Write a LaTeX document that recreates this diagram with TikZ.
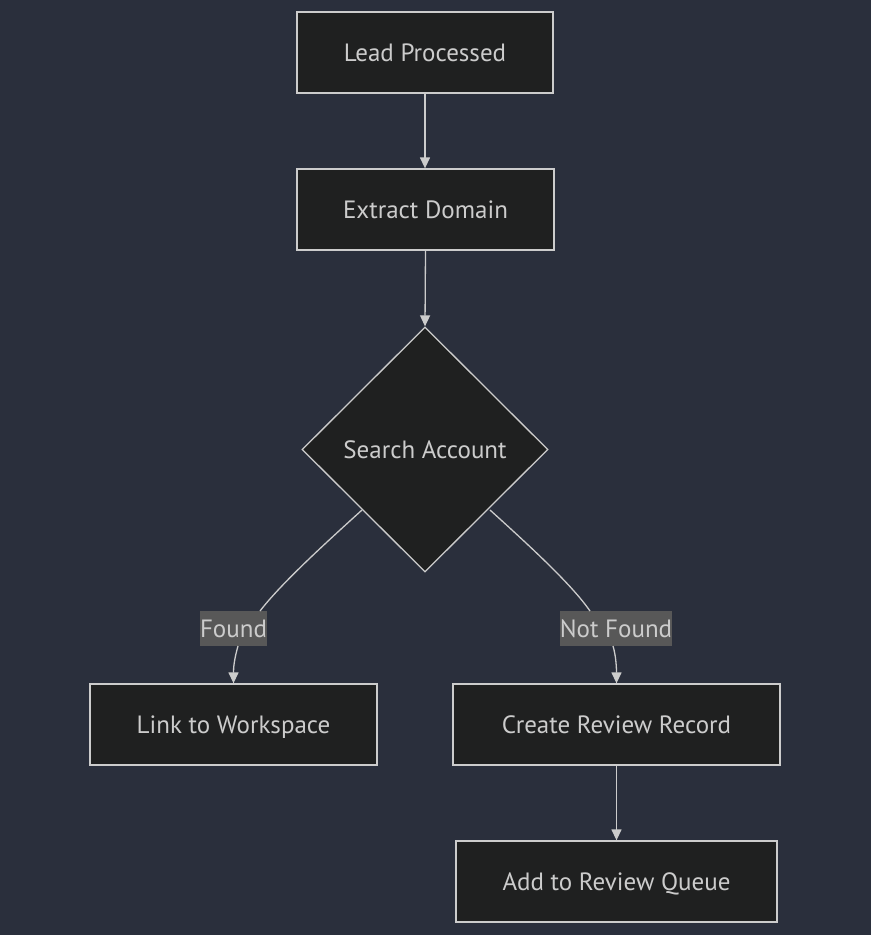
\documentclass[tikz,border=0pt]{standalone}
\usepackage{fontspec}
\setmainfont{PT Sans}
\usetikzlibrary{shapes.geometric,arrows.meta}
\definecolor{bgc}{HTML}{2A2F3C}
\definecolor{nodefill}{HTML}{1F2020}
\definecolor{linec}{HTML}{CCCCCC}
\definecolor{txtc}{HTML}{CCCCCC}
\definecolor{lblbg}{HTML}{585858}
\tikzset{
  txt/.style={text=txtc, font=\fontsize{25}{29}\selectfont, text height=19pt, text depth=2pt},
  box/.style={txt, draw=linec, fill=nodefill, line width=1.3pt, inner sep=0pt},
  dia/.style={txt, draw=linec, fill=nodefill, line width=1.3pt, diamond, inner sep=0pt, minimum width=246pt, minimum height=245pt},
  lbl/.style={txt, fill=lblbg, inner sep=0pt},
  conn/.style={draw=linec, line width=1.3pt, -{Triangle[width=10pt,length=11pt]}},
  plain/.style={draw=linec, line width=1.3pt},
}
\begin{document}
\begin{tikzpicture}[x=1pt,y=-1pt]
\useasboundingbox[fill=bgc] (0,0) rectangle (871,935);
\node[box, minimum width=256pt, minimum height=81pt] (lead) at (425,52.5) {Lead Processed};
\node[box, minimum width=257pt, minimum height=81pt] (extract) at (425.5,209.5) {Extract Domain};
\node[dia] (search) at (425,449.5) {Search Account};
\node[box, minimum width=287pt, minimum height=81pt] (link) at (233.5,724.5) {Link to Workspace};
\node[box, minimum width=327pt, minimum height=81pt] (create) at (616.5,724.5) {Create Review Record};
\node[box, minimum width=321pt, minimum height=81pt] (add) at (616.5,881.5) {Add to Review Queue};
\node[lbl, minimum width=65pt, minimum height=35pt] (found) at (233.5,628.5) {Found};
\node[lbl, minimum width=110pt, minimum height=35pt] (notfound) at (616,628.5) {Not Found};
\coordinate (sl) at (362,510);
\coordinate (sr) at (490,510);
\draw[conn] (lead.south) -- (lead.south |- extract.north);
\draw[conn] (extract.south) -- (search.north);
\draw[plain] (sl) .. controls (320,548) and (280,585) .. (260,611);
\draw[conn] (238,646) .. controls (234,660) and (233.5,668) .. (link.north);
\draw[plain] (sr) .. controls (532,548) and (572,585) .. (590,611);
\draw[conn] (613,646) .. controls (616,656) and (616.5,668) .. (create.north);
\draw[conn] (create.south) -- (add.north);
\end{tikzpicture}
\end{document}
